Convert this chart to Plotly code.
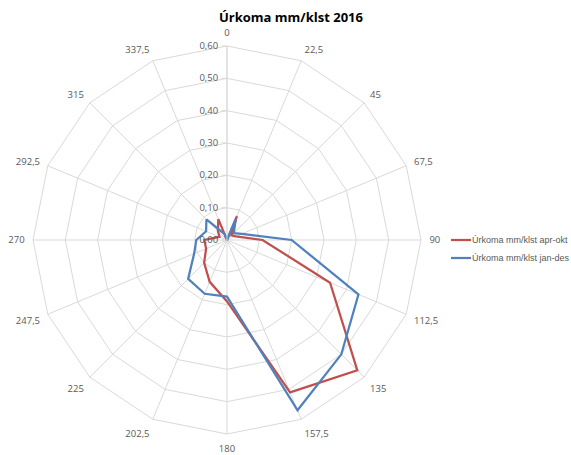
import plotly.graph_objects as go

# Wind direction sectors (degrees) and hourly precipitation per sector
directions = ["0", "22,5", "45", "67,5", "90", "112,5", "135", "157,5",
              "180", "202,5", "225", "247,5", "270", "292,5", "315", "337,5"]
rain_apr_okt = [0.00, 0.08, 0.02, 0.03, 0.11, 0.345, 0.57, 0.51,
                0.19, 0.14, 0.10, 0.07, 0.07, 0.025, 0.04, 0.07]
rain_jan_des = [0.00, 0.07, 0.03, 0.05, 0.20, 0.44, 0.50, 0.57,
                0.175, 0.18, 0.17, 0.11, 0.095, 0.07, 0.09, 0.02]
series_names = ["Úrkoma mm/klst apr-okt", "Úrkoma mm/klst jan-des"]
series_colors = ["#C0504D", "#4F81BD"]

W, H = 571, 455
cx, cy, rad = 227, 240, 194

fig = go.Figure()
for name, vals, col in zip(series_names, [rain_apr_okt, rain_jan_des], series_colors):
    fig.add_trace(go.Scatterpolar(
        r=vals + vals[:1],
        theta=directions + directions[:1],
        mode="lines",
        name=name,
        showlegend=False,
        line=dict(color=col, width=2.25),
    ))

# Compact legend at the right: short line sample followed by the series name
legend_x0, legend_x1, text_x = 451, 471, 471
legend_rows = [240, 258]
for name, col, ypix in zip(series_names, series_colors, legend_rows):
    yp = 1 - ypix / H
    fig.add_shape(type="line", xref="paper", yref="paper",
                  x0=legend_x0 / W, x1=legend_x1 / W, y0=yp, y1=yp,
                  line=dict(color=col, width=2.25))
    fig.add_annotation(xref="paper", yref="paper", x=text_x / W, y=yp,
                       xanchor="left", yanchor="middle", showarrow=False,
                       text=name, borderpad=0,
                       font=dict(size=9, color="#595959",
                                 family="Liberation Sans, Arial, sans-serif"))

fig.update_layout(
    width=W, height=H,
    margin=dict(l=0, r=0, t=0, b=0, autoexpand=False),
    paper_bgcolor="white",
    separators=", ",
    font=dict(family="Open Sans, Liberation Sans, sans-serif", color="#595959", size=10),
    title=dict(text="<b>Úrkoma mm/klst 2016</b>", x=291 / W, xanchor="center",
               y=1 - 17 / H, yanchor="middle",
               font=dict(size=13, color="#000000", family="Open Sans, Liberation Sans, sans-serif")),
    polar=dict(
        domain=dict(x=[(cx - rad) / W, (cx + rad) / W],
                    y=[1 - (cy + rad) / H, 1 - (cy - rad) / H]),
        bgcolor="white",
        gridshape="linear",
        angularaxis=dict(
            type="category",
            categoryarray=directions,
            rotation=90, direction="clockwise",
            showline=True, linecolor="#d9d9d9", linewidth=1,
            gridcolor="#d9d9d9", gridwidth=1,
            ticks="outside", ticklen=6, tickcolor="rgba(0,0,0,0)",
            tickfont=dict(size=9.5, color="#595959"),
        ),
        radialaxis=dict(
            range=[0, 0.6], dtick=0.1, tickformat=".2f",
            angle=90, tickangle=90, side="counterclockwise",
            showline=True, linecolor="#d9d9d9", linewidth=1,
            gridcolor="#d9d9d9", gridwidth=1,
            ticks="outside", ticklen=5, tickcolor="#d9d9d9",
            tickfont=dict(size=9.5, color="#595959"),
        ),
    ),
)

fig.write_html("out.html")
